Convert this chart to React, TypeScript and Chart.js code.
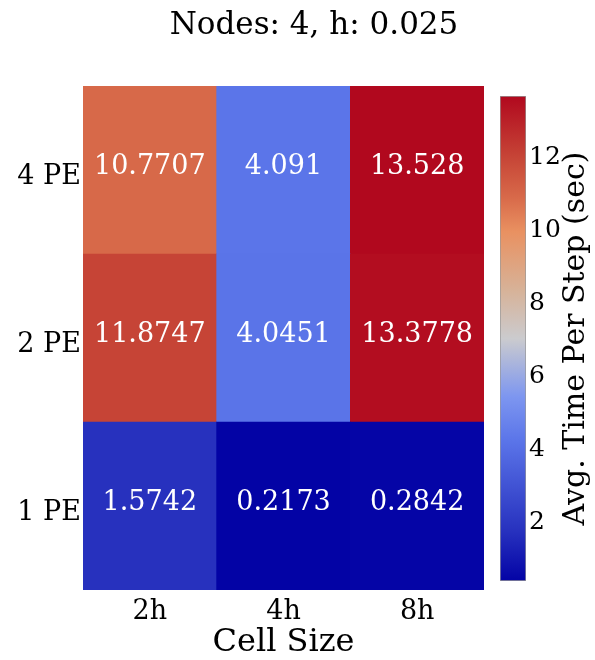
import React, { useEffect, useRef } from 'react';
import { Chart, registerables } from 'chart.js';

Chart.register(...registerables);

// ---- data ----
const chartTitle = 'Nodes: 4, h: 0.025';
const cellSizes = ['2h', '4h', '8h'];
const peLabels = ['1 PE', '2 PE', '4 PE'];
const times1PE = [1.5742, 0.2173, 0.2842];
const times2PE = [11.8747, 4.0451, 13.3778];
const times4PE = [10.7707, 4.091, 13.528];
const colorbarTicks = [2, 4, 6, 8, 10, 12];
const xAxisTitle = 'Cell Size';
const colorbarLabel = 'Avg. Time Per Step (sec)';

const timesByRow = [times1PE, times2PE, times4PE];
const allTimes = timesByRow.flat();
const vMin = Math.min(...allTimes);
const vMax = Math.max(...allTimes);

const FONT = "'DejaVu Serif', serif";

// colormap stops: [t, r, g, b]
const CMAP: [number, number, number, number][] = [
  [0.0, 3, 3, 165],
  [0.1, 38, 48, 190],
  [0.29, 91, 117, 233],
  [0.38, 125, 150, 240],
  [0.5, 203, 203, 206],
  [0.6, 215, 178, 152],
  [0.72, 233, 145, 97],
  [0.79, 216, 106, 74],
  [0.876, 198, 68, 54],
  [1.0, 177, 8, 30],
];

function colorAt(v: number): string {
  let t = (v - vMin) / (vMax - vMin);
  t = Math.max(0, Math.min(1, t));
  for (let i = 0; i < CMAP.length - 1; i++) {
    const a = CMAP[i];
    const b = CMAP[i + 1];
    if (t >= a[0] && t <= b[0]) {
      const f = (t - a[0]) / (b[0] - a[0] || 1);
      const r = Math.round(a[1] + (b[1] - a[1]) * f);
      const g = Math.round(a[2] + (b[2] - a[2]) * f);
      const bl = Math.round(a[3] + (b[3] - a[3]) * f);
      return `rgb(${r},${g},${bl})`;
    }
  }
  const l = CMAP[CMAP.length - 1];
  return `rgb(${l[1]},${l[2]},${l[3]})`;
}

function Heatmap() {
  const ref = useRef<HTMLCanvasElement>(null);
  useEffect(() => {
    if (!ref.current) return;
    const annotations = {
      id: 'cellAnnotations',
      afterDatasetsDraw(chart: any) {
        const ctx = chart.ctx;
        ctx.save();
        ctx.font = `27px ${FONT}`;
        ctx.fillStyle = '#ffffff';
        ctx.textAlign = 'center';
        ctx.textBaseline = 'middle';
        chart.data.datasets.forEach((_ds: any, di: number) => {
          const meta = chart.getDatasetMeta(di);
          meta.data.forEach((el: any, i: number) => {
            const { x, y, base } = el.getProps(['x', 'y', 'base'], true);
            ctx.fillText(String(timesByRow[di][i]), x, (y + base) / 2 - 3);
          });
        });
        ctx.restore();
      },
    };
    const figTitle = {
      id: 'figTitle',
      afterDraw(chart: any) {
        const ctx = chart.ctx;
        ctx.save();
        ctx.font = `31px ${FONT}`;
        ctx.fillStyle = '#000';
        ctx.textAlign = 'center';
        ctx.textBaseline = 'middle';
        ctx.fillText(chartTitle, 314, 26);
        ctx.restore();
      },
    };
    const chart = new Chart(ref.current, {
      type: 'bar',
      data: {
        labels: cellSizes,
        datasets: timesByRow.map((vals, r) => ({
          label: peLabels[r],
          data: vals.map(() => 1),
          backgroundColor: vals.map(colorAt),
          borderWidth: 0,
          barPercentage: 1,
          categoryPercentage: 1,
        })),
      },
      options: {
        responsive: false,
        animation: false,
        layout: { padding: { top: 86, right: 11, left: 0, bottom: 0 } },
        plugins: {
          legend: { display: false },
          tooltip: { enabled: false },
          title: { display: false },
        },
        scales: {
          x: {
            stacked: true,
            grid: { display: false, drawTicks: false },
            border: { display: false },
            ticks: { font: { family: FONT, size: 27 }, color: '#000', padding: 6 },
            title: {
              display: true,
              text: xAxisTitle,
              font: { family: FONT, size: 32, lineHeight: 1 },
              color: '#000',
              padding: { top: 0, bottom: 1.5 },
            },
            afterFit: (s: any) => {
              s.height = 70;
            },
          },
          y: {
            stacked: true,
            min: 0,
            max: peLabels.length,
            grid: { display: false, drawTicks: false },
            border: { display: false },
            afterBuildTicks: (s: any) => {
              s.ticks = peLabels.map((_, i) => ({ value: i + 0.5 }));
            },
            ticks: {
              callback: (v: any) => peLabels[Math.floor(Number(v))],
              font: { family: FONT, size: 27 },
              color: '#000',
              padding: 2,
              labelOffset: 7,
            },
            afterFit: (s: any) => {
              s.width = 83;
            },
          },
        },
      },
      plugins: [annotations, figTitle],
    } as any);
    return () => chart.destroy();
  }, []);
  return (
    <canvas
      ref={ref}
      width={495}
      height={660}
      style={{ position: 'absolute', left: 0, top: 0, width: 495, height: 660 }}
    />
  );
}

function Colorbar() {
  const ref = useRef<HTMLCanvasElement>(null);
  useEffect(() => {
    if (!ref.current) return;
    const cbLabel = {
      id: 'cbLabel',
      afterDraw(chart: any) {
        const ctx = chart.ctx;
        const { top, bottom } = chart.chartArea;
        ctx.save();
        ctx.translate(89, (top + bottom) / 2);
        ctx.rotate(-Math.PI / 2);
        ctx.font = `30px ${FONT}`;
        ctx.fillStyle = '#000';
        ctx.textAlign = 'center';
        ctx.textBaseline = 'alphabetic';
        ctx.fillText(colorbarLabel, 0, 0);
        ctx.restore();
      },
    };
    const chart = new Chart(ref.current, {
      type: 'bar',
      data: {
        labels: ['colorbar'],
        datasets: [
          {
            data: [[vMin, vMax]],
            backgroundColor: (c: any) => {
              const ch = c.chart;
              const ys = ch.scales && ch.scales.y;
              if (!ys || !ch.chartArea) return colorAt(vMax);
              const g = ch.ctx.createLinearGradient(
                0,
                ys.getPixelForValue(vMin),
                0,
                ys.getPixelForValue(vMax)
              );
              CMAP.forEach(([t, r, gg, b]) => g.addColorStop(t, `rgb(${r},${gg},${b})`));
              return g;
            },
            borderColor: 'rgba(140,140,140,0.9)',
            borderWidth: 1,
            borderSkipped: false,
            barPercentage: 1,
            categoryPercentage: 1,
          },
        ],
      },
      options: {
        responsive: false,
        animation: false,
        layout: { padding: { left: 5, top: 96, bottom: 79, right: 0 } },
        plugins: {
          legend: { display: false },
          tooltip: { enabled: false },
          title: { display: false },
        },
        scales: {
          x: { display: false },
          y: {
            position: 'right',
            min: vMin,
            max: vMax,
            grid: { display: false, drawTicks: false },
            border: { display: false },
            afterBuildTicks: (s: any) => {
              s.ticks = colorbarTicks.map((v) => ({ value: v }));
            },
            ticks: {
              font: { family: FONT, size: 25 },
              color: '#000',
              padding: 3,
              labelOffset: 6,
              callback: (v: any) => String(v),
            },
            afterFit: (s: any) => {
              s.width = 69;
            },
          },
        },
      },
      plugins: [cbLabel],
    } as any);
    return () => chart.destroy();
  }, []);
  return (
    <canvas
      ref={ref}
      width={100}
      height={660}
      style={{ position: 'absolute', left: 495, top: 0, width: 100, height: 660 }}
    />
  );
}

export default function App() {
  return (
    <div
      style={{
        position: 'absolute',
        left: 0,
        top: 0,
        width: 595,
        height: 660,
        background: '#fff',
        overflow: 'hidden',
      }}
    >
      <Heatmap />
      <Colorbar />
    </div>
  );
}
